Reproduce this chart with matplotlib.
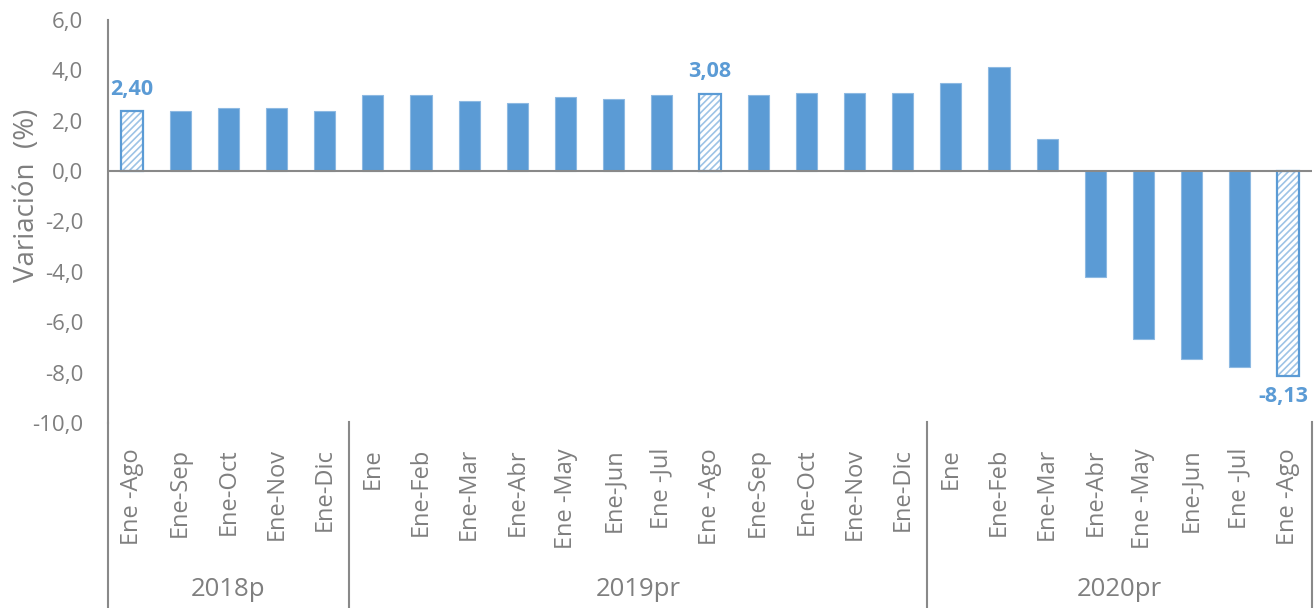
import matplotlib.pyplot as plt
import matplotlib.transforms as mtransforms
from matplotlib.lines import Line2D

plt.rcParams['font.family'] = ['Open Sans', 'DejaVu Sans']
plt.rcParams['hatch.linewidth'] = 1.2

# data
groups = ["2018p", "2019pr", "2020pr"]
labels_2018 = ["Ene -Ago", "Ene-Sep", "Ene-Oct", "Ene-Nov", "Ene-Dic"]
labels_2019 = ["Ene", "Ene-Feb", "Ene-Mar", "Ene-Abr", "Ene -May", "Ene-Jun",
               "Ene -Jul", "Ene -Ago", "Ene-Sep", "Ene-Oct", "Ene-Nov", "Ene-Dic"]
labels_2020 = ["Ene", "Ene-Feb", "Ene-Mar", "Ene-Abr", "Ene -May", "Ene-Jun",
               "Ene -Jul", "Ene -Ago"]
values_2018 = [2.40, 2.40, 2.49, 2.49, 2.40]
values_2019 = [3.03, 3.03, 2.79, 2.71, 2.95, 2.87, 3.03, 3.08, 3.03, 3.10, 3.10, 3.10]
values_2020 = [3.50, 4.14, 1.29, -4.19, -6.65, -7.44, -7.76, -8.13]
highlight = [0, 12, 24]  # hatched bars with value labels

labels = labels_2018 + labels_2019 + labels_2020
values = values_2018 + values_2019 + values_2020
group_sizes = [len(labels_2018), len(labels_2019), len(labels_2020)]

blue = "#5B9BD5"
light_blue = "#9DC3E6"
gray = "#7F7F7F"
axis_gray = "#898989"

fig = plt.figure(figsize=(13.15, 6.08), dpi=100)
ax = fig.add_axes([108 / 1315, 1 - 423 / 608, 1204 / 1315, 403 / 608])

x = list(range(len(values)))
for i, v in enumerate(values):
    if i in highlight:
        ax.bar(i, v, width=0.44, facecolor="white", edgecolor=light_blue,
               hatch="/////", linewidth=0, zorder=2)
        ax.bar(i, v, width=0.44, fill=False, edgecolor=blue,
               linewidth=1.6, zorder=2)
    else:
        ax.bar(i, v, width=0.44, color=blue, edgecolor="#8DB9E2",
               linewidth=0.8, zorder=2)

for i in highlight:
    v = values[i]
    txt = f"{v:.2f}".replace(".", ",")
    if v >= 0:
        ax.annotate(txt, (i, v), xytext=(0, 8), textcoords="offset points",
                    ha="center", va="bottom", color=blue, fontsize=15.5,
                    fontweight="bold")
    else:
        ax.annotate(txt, (i, v), xytext=(-3, -7), textcoords="offset points",
                    ha="center", va="top", color=blue, fontsize=15.5,
                    fontweight="bold")

ax.axhline(0, color=axis_gray, linewidth=1.5, zorder=3)

ax.set_xlim(-0.5, len(values) - 0.5)
ax.set_ylim(-10, 6)
ax.set_yticks(range(-10, 7, 2))
ax.set_yticklabels([f"{t:.1f}".replace(".", ",") for t in range(-10, 7, 2)])
ax.set_xticks(x)
ax.set_xticklabels(labels, rotation=90, va="top")
ax.tick_params(axis="x", length=0, pad=18, labelsize=17, labelcolor=gray)
ax.tick_params(axis="y", length=0, pad=18, labelsize=16, labelcolor=gray)

for s in ["top", "right", "bottom"]:
    ax.spines[s].set_visible(False)
ax.spines["left"].set_color(axis_gray)
ax.spines["left"].set_linewidth(1.5)

ax.set_ylabel("Variación  (%)", fontsize=20, color=gray)
ax.yaxis.set_label_coords(-0.056, 0.566)

# category separators and group labels below the axes
trans = mtransforms.blended_transform_factory(ax.transData, fig.transFigure)
y_top = 1 - 422 / 608
bounds = [-0.5]
for n in group_sizes:
    bounds.append(bounds[-1] + n)
for j, b in enumerate(bounds):
    y0 = 1 - 423 / 608 if j == 0 else y_top
    fig.add_artist(Line2D([b, b], [0, y0], transform=trans,
                          color=axis_gray, linewidth=1.5))
for g, a, b in zip(groups, bounds[:-1], bounds[1:]):
    fig.text((a + b) / 2, 1 - 590 / 608, g, transform=trans, ha="center",
             va="center", fontsize=18.5, color=gray)

fig.savefig("out.png", dpi=100)
